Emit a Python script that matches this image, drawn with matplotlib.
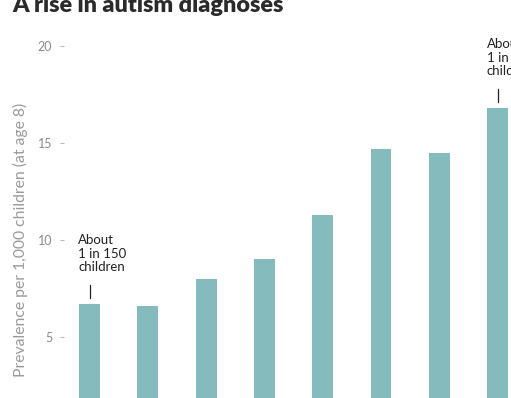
import matplotlib
matplotlib.use("Agg")
import matplotlib.pyplot as plt

years = ["2000", "2002", "2004", "2006", "2008", "2010", "2012", "2014"]
prevalence = [6.7, 6.6, 8.0, 9.0, 11.3, 14.7, 14.5, 16.8]
y_ticks = [5, 10, 15, 20]
notes = {0: "About\n1 in 150\nchildren", 7: "About\n1 in 59\nchildren"}
title = "A rise in autism diagnoses"
ylabel = "Prevalence per 1,000 children (at age 8)"

plt.rcParams['font.family'] = ['Lato', 'DejaVu Sans']

W, H = 511, 398
fig = plt.figure(figsize=(W / 100, H / 100), dpi=100)
fig.patch.set_facecolor("white")

# axes: value 0 at y=434px, 20 at y=46px (from top); left at x=64px
ax_left, ax_right = 64, 511
y0_px, y20_px = 434, 46
ax = fig.add_axes([ax_left / W, (H - y0_px) / H, (ax_right - ax_left) / W, (y0_px - y20_px) / H])

x = list(range(len(years)))
ax.bar(x, prevalence, width=0.36, color="#86bbbe", zorder=2)

# x: center of first bar at 89.5px, spacing 58.3px
cx0, step = 89.5, 58.3
ax.set_xlim((ax_left - cx0) / step, (ax_right - cx0) / step)
ax.set_ylim(0, 20)

for s in ax.spines.values():
    s.set_visible(False)
ax.set_xticks([])
ax.set_yticks(y_ticks)
ax.set_yticklabels([str(t) for t in y_ticks])
ax.tick_params(axis="y", direction="out", length=3, width=0.8, color="#bbbbbb",
               pad=5.5, labelsize=9, labelcolor="#8a8a8a")

for i, txt in notes.items():
    v = prevalence[i]
    ax.plot([i, i], [v + 0.3, v + 1.0], color="#222222", lw=0.9, clip_on=False, zorder=3)
    ax.text(i - 0.19, v + 3.6, txt, ha="left", va="top", fontsize=9.5,
            color="#222222", linespacing=1.15, clip_on=False)

fig.text(12 / W, (H - 12) / H, title, ha="left", va="baseline",
         fontsize=16.8, fontweight="heavy", color="#2a2a2a")
fig.text(20 / W, (H - 240) / H, ylabel, rotation=90, ha="center", va="center",
         fontsize=11.3, color="#9a9a9a")

fig.savefig("out.png", dpi=100)
